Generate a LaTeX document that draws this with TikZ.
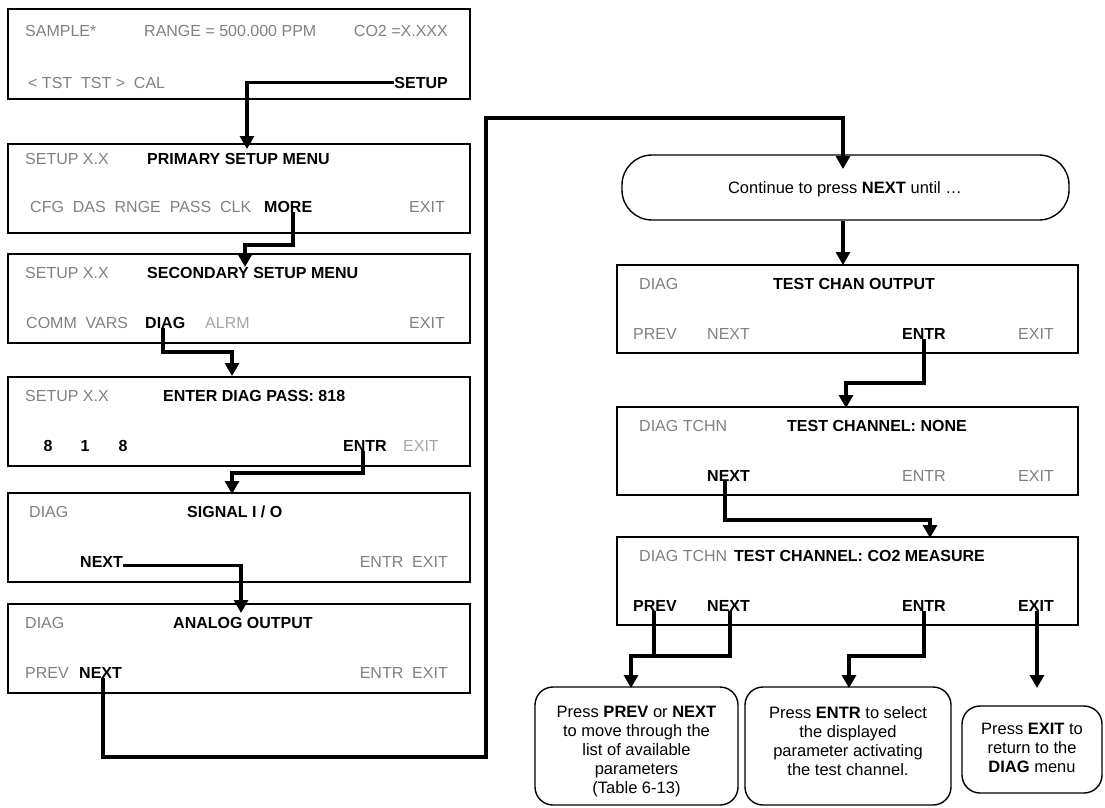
\documentclass[tikz,border=0pt]{standalone}
\usepackage{fontspec}
\setmainfont{Liberation Sans}
\usetikzlibrary{arrows.meta}
\definecolor{tg}{HTML}{808080}
\definecolor{tl}{HTML}{A6A6A6}
\begin{document}
\begin{tikzpicture}[x=1pt,y=-1pt,
  panel/.style={draw=black, line width=1.5pt, inner sep=0pt, minimum height=89pt},
  lpanel/.style={panel, minimum width=462pt},
  rpanel/.style={panel, minimum width=461pt, minimum height=88pt},
  tx/.style={inner sep=0pt, anchor=base west, font=\fontsize{16}{19}\selectfont},
  txr/.style={tx, anchor=base east},
  txc/.style={tx, anchor=base},
  bd/.style={font=\fontsize{16}{19}\selectfont\bfseries},
  gr/.style={text=tg},
  lgr/.style={text=tl},
  bubble/.style={draw=black, line width=1.4pt, rounded corners=18pt, inner sep=0pt},
  btext/.style={inner sep=0pt, align=center, font=\fontsize{16.5}{19}\selectfont},
  conn/.style={line width=3.1pt, -{Triangle[width=14pt,length=13pt]}},
  wire/.style={line width=3.1pt}
]
\useasboundingbox (0,0) rectangle (1105,807);

% ---------------- left column panels
\node[lpanel, minimum height=90pt] (p1) at (239,54) {};
\node[lpanel] (p2) at (239,188.5) {};
\node[lpanel] (p3) at (239,298.5) {};
\node[lpanel] (p4) at (239,421.5) {};
\node[lpanel] (p5) at (239,537.5) {};
\node[lpanel] (p6) at (239,648.5) {};

% panel 1
\node[tx,gr] (s1a) at (25,36) {SAMPLE*};
\node[tx,gr] (s1b) at (144,36) {RANGE = 500.000 PPM};
\node[txr,gr] (s1c) at (448,36) {CO2 =X.XXX};
\node[tx,gr] (s1d) at (28,88) {< TST\ \ TST >\ \ CAL};
\node[txr,bd] (setup) at (448,88) {SETUP};

% panel 2
\node[tx,gr] (s2a) at (25,164) {SETUP X.X};
\node[tx,bd] (s2b) at (147,164) {PRIMARY SETUP MENU};
\node[tx,gr] (s2c) at (30,212) {CFG\ \ DAS\ \ RNGE\ \ PASS\ \ CLK};
\node[tx,bd] (more) at (264,212) {MORE};
\node[txr,gr] (s2e) at (445,212) {EXIT};

% panel 3
\node[tx,gr] (s3a) at (25,278) {SETUP X.X};
\node[tx,bd] (s3b) at (147,278) {SECONDARY SETUP MENU};
\node[tx,gr] (s3c) at (26,328) {COMM\ \ VARS};
\node[tx,bd] (diag3) at (145,328) {DIAG};
\node[tx,lgr] (s3e) at (205,328) {ALRM};
\node[txr,gr] (s3f) at (445,328) {EXIT};

% panel 4
\node[tx,gr] (s4a) at (25,401) {SETUP X.X};
\node[tx,bd] (s4b) at (163,401) {ENTER DIAG PASS: 818};
\node[txc,bd] (d4a) at (48,451) {8};
\node[txc,bd] (d4b) at (85,451) {1};
\node[txc,bd] (d4c) at (123,451) {8};
\node[tx,bd] (entr4) at (343,451) {ENTR};
\node[tx,lgr] (s4e) at (403,451) {EXIT};

% panel 5
\node[tx,gr] (s5a) at (29,517) {DIAG};
\node[tx,bd] (s5b) at (187,517) {SIGNAL I / O};
\node[tx,bd] (next5) at (80,567) {NEXT};
\node[txr,gr] (s5d) at (448,567) {ENTR\ \ EXIT};

% panel 6
\node[tx,gr] (s6a) at (25,628) {DIAG};
\node[tx,bd] (s6b) at (173,628) {ANALOG OUTPUT};
\node[tx,gr] (s6c) at (25,678) {PREV};
\node[tx,bd] (next6) at (79,678) {NEXT};
\node[txr,gr] (s6e) at (448,678) {ENTR\ \ EXIT};

% ---------------- right column
\node[draw=black, line width=1.4pt, rounded corners=30pt, inner sep=0pt,
      minimum width=447pt, minimum height=65pt] (bub) at (845.5,187.5) {};
\node[btext] (bubt) at (845,189) {Continue to press \textbf{NEXT} until \ldots};

\node[rpanel] (p7) at (847.5,309) {};
\node[rpanel] (p8) at (847.5,451) {};
\node[rpanel] (p9) at (847.5,581) {};

% panel 7
\node[tx,gr] (s7a) at (639,289) {DIAG};
\node[tx,bd] (s7b) at (773,289) {TEST CHAN OUTPUT};
\node[tx,gr] (s7c) at (633,339) {PREV};
\node[tx,gr] (s7d) at (707,339) {NEXT};
\node[tx,bd] (entr7) at (902,339) {ENTR};
\node[tx,gr] (s7f) at (1018,339) {EXIT};

% panel 8
\node[tx,gr] (s8a) at (639,431) {DIAG TCHN};
\node[tx,bd] (s8b) at (787,431) {TEST CHANNEL: NONE};
\node[tx,bd] (next8) at (707,481) {NEXT};
\node[tx,gr] (s8d) at (902,481) {ENTR};
\node[tx,gr] (s8e) at (1018,481) {EXIT};

% panel 9
\node[tx,gr] (s9a) at (639,561) {DIAG TCHN};
\node[tx,bd] (s9b) at (734,561) {TEST CHANNEL: CO2 MEASURE};
\node[tx,bd] (prev9) at (633,611) {PREV};
\node[tx,bd] (next9) at (707,611) {NEXT};
\node[tx,bd] (entr9) at (902,611) {ENTR};
\node[tx,bd] (exit9) at (1018,611) {EXIT};

% bottom bubbles
\node[bubble, minimum width=203pt, minimum height=118pt] (b1) at (636.5,746) {};
\node[btext] (b1t) at (636.5,751.5) {Press \textbf{PREV} or \textbf{NEXT}\\to move through the\\list of available\\parameters\\(Table 6-13)};
\node[bubble, minimum width=206pt, minimum height=118pt] (b2) at (848,746) {};
\node[btext] (b2t) at (848,741) {Press \textbf{ENTR} to select\\the displayed\\parameter activating\\the test channel.};
\node[bubble, minimum width=140pt, minimum height=87pt] (b3) at (1032,749.5) {};
\node[btext] (b3t) at (1032,748) {Press \textbf{EXIT} to\\return to the\\\textbf{DIAG} menu};

% ---------------- connectors
\coordinate (t1) at (247,149);
\draw[conn] (setup.west) -| (t1);

\coordinate (k2) at (293,245);
\coordinate (t2) at (245,267);
\draw[conn] (more.south -| k2) -- (k2) -| (t2);

\coordinate (k3) at (163,352);
\coordinate (t3) at (232,376);
\draw[conn] (diag3.south -| k3) -- (k3) -| (t3);

\coordinate (k4) at (363,473);
\coordinate (t4) at (232,494);
\draw[conn] (entr4.south -| k4) -- (k4) -| (t4);

\coordinate (t5) at (241,613);
\draw[conn] ([yshift=-4pt]next5.east) -| (t5);

\coordinate (k6a) at (103,757);
\coordinate (k6b) at (486,118);
\coordinate (t6) at (843,169);
\draw[conn] (next6.south -| k6a) -- (k6a) -| (k6b) -| (t6);

\coordinate (t7) at (843,265);
\draw[conn] (bub.south -| t7) -- (t7);

\coordinate (k8) at (924,383);
\coordinate (t8) at (846,408);
\draw[conn] (entr7.south -| k8) -- (k8) -| (t8);

\coordinate (k9) at (725,520);
\coordinate (t9) at (930,538);
\draw[conn] (next8.south -| k9) -- (k9) -| (t9);

\coordinate (k10) at (730,656);
\coordinate (k10b) at (654,656);
\coordinate (j10) at (631,656);
\coordinate (t10) at (631,688);
\draw[conn] (next9.south -| k10) -- (k10) -- (j10) -- (t10);
\draw[wire] (prev9.south -| k10b) -- (k10b);

\coordinate (k11) at (924,656);
\coordinate (t11) at (849,688);
\draw[conn] (entr9.south -| k11) -- (k11) -| (t11);

\coordinate (t12) at (1037,688);
\draw[conn] (exit9.south -| t12) -- (t12);
\end{tikzpicture}
\end{document}
